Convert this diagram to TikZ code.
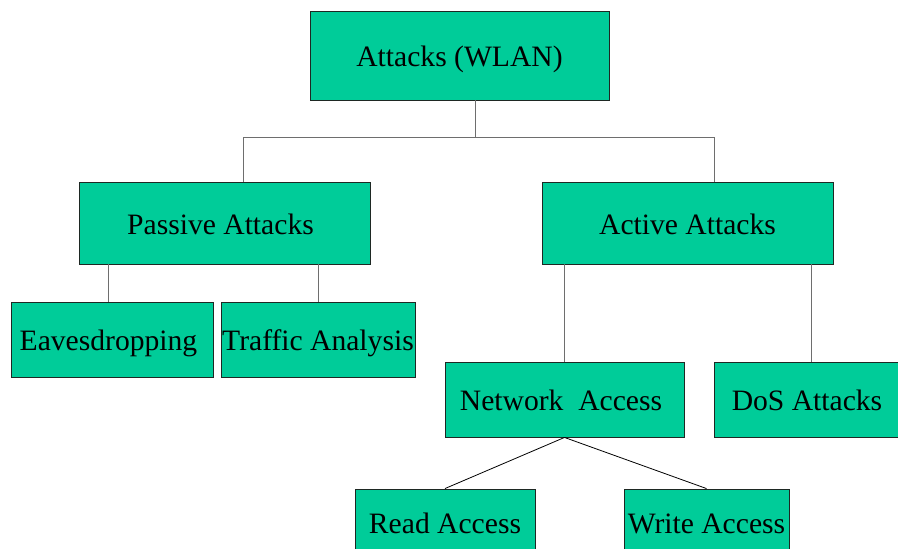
\documentclass[tikz,border=0pt]{standalone}
\usepackage{fontspec}
\setmainfont{Liberation Serif}
\definecolor{boxfill}{RGB}{0,204,153}
\definecolor{boxline}{RGB}{30,40,35}
\definecolor{linkgray}{RGB}{110,110,110}
\tikzset{
  box/.style={draw=boxline, fill=boxfill, line width=0.9pt, inner sep=0pt,
    text height=22.5pt, text depth=0pt,
    font=\fontsize{29.6}{34}\selectfont},
  vlink/.style={draw=linkgray, line width=0.9pt},
  dlink/.style={draw=black, line width=0.8pt}
}
\begin{document}
\begin{tikzpicture}[x=1pt,y=-1pt]
\useasboundingbox (0,0) rectangle (898,549);
\node[box, minimum width=299pt, minimum height=89pt] (top) at (459.5,55.5) {Attacks (WLAN)};
\node[box, minimum width=291pt, minimum height=82pt] (passive) at (224.5,223) {Passive Attacks\kern8pt};
\node[box, minimum width=291pt, minimum height=82pt] (active) at (687.5,223) {Active Attacks};
\node[box, minimum width=202pt, minimum height=75pt] (eaves) at (112,339.5) {Eavesdropping\kern7pt};
\node[box, minimum width=194pt, minimum height=75pt] (traffic) at (318,339.5) {Traffic Analysis};
\node[box, minimum width=239pt, minimum height=75pt] (network) at (564.5,399.5) {Network\ \ Access\kern7pt};
\node[box, minimum width=186pt, minimum height=75pt] (dos) at (807,399.5) {DoS Attacks};
\node[box, minimum width=180pt, minimum height=66pt] (read) at (445,522) {Read Access};
\node[box, minimum width=165pt, minimum height=66pt] (write) at (706.5,522) {Write Access};
% top level tree
\coordinate (j) at (475,137);
\coordinate (jl) at (243,137);
\coordinate (jr) at (714,137);
\draw[vlink] (j |- top.south) -- (j);
\draw[vlink] (jl |- passive.north) -- (jl) -- (jr) -- (jr |- active.north);
% passive children
\coordinate (pe) at (108,302);
\coordinate (pt) at (318,302);
\draw[vlink] (pe |- passive.south) -- (pe |- eaves.north);
\draw[vlink] (pt |- passive.south) -- (pt |- traffic.north);
% active children
\coordinate (an) at (564,300);
\coordinate (ad) at (811,300);
\draw[vlink] (an |- active.south) -- (an |- network.north);
\draw[vlink] (ad |- active.south) -- (ad |- dos.north);
% network access children
\draw[dlink] (network.south) -- (read.north);
\draw[dlink] (network.south) -- (write.north);
\end{tikzpicture}
\end{document}
